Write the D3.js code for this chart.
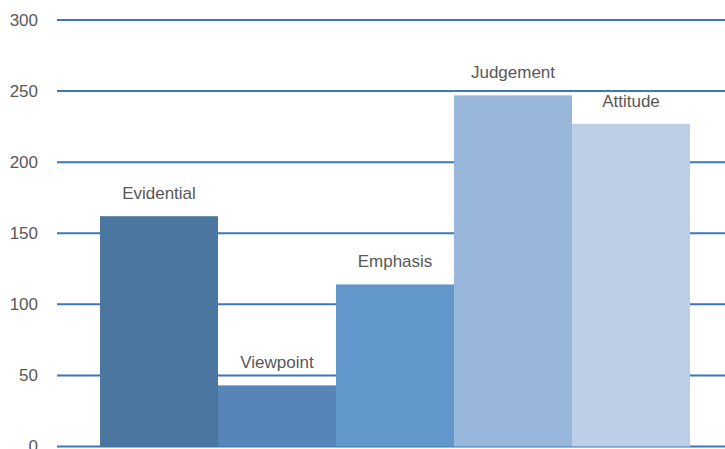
<!doctype html>
<html>
<head>
  <meta charset="UTF-8">
  <title>d3</title>
  <style type="text/css">
    body { margin: 0; background: #fff; }
    text { font-family: "Liberation Sans", Arial, sans-serif; fill: #585858; }
  </style>
  <script src="https://d3js.org/d3.v7.min.js"></script>
</head>
<body>
  <div id="chart"></div>
  <script>
    var categories = ["Evidential", "Viewpoint", "Emphasis", "Judgement", "Attitude"];
    var values = [162, 43, 114, 247, 227];
    var colors = ["#4a76a0", "#5785b7", "#6197ca", "#99b7da", "#bccfe7"];
    var yTicks = [0, 50, 100, 150, 200, 250, 300];

    var w = 725, h = 449;

    var svg = d3.select("#chart").append("svg")
      .attr("width", w)
      .attr("height", h);

    var y = d3.scaleLinear().domain([0, 300]).range([446.5, 20]);
    var x = d3.scaleBand().domain(categories).range([100, 690]).padding(0);

    // gridlines
    svg.selectAll(".grid")
      .data(yTicks)
      .enter().append("line")
      .attr("class", "grid")
      .attr("x1", 57)
      .attr("x2", w)
      .attr("y1", function(d) { return y(d); })
      .attr("y2", function(d) { return y(d); })
      .attr("stroke", "#3b78b5")
      .attr("stroke-width", 2);

    svg.selectAll(".yLabel")
      .data(yTicks)
      .enter().append("text")
      .attr("class", "yLabel")
      .attr("x", 38)
      .attr("y", function(d) { return y(d); })
      .attr("dy", "0.35em")
      .attr("text-anchor", "end")
      .style("font-size", "17px")
      .text(String);

    svg.selectAll(".bar")
      .data(values)
      .enter().append("rect")
      .attr("class", "bar")
      .attr("x", function(d, i) { return x(categories[i]); })
      .attr("width", x.bandwidth())
      .attr("y", function(d) { return y(d); })
      .attr("height", function(d) { return y(0) - y(d); })
      .attr("fill", function(d, i) { return colors[i]; });

    svg.selectAll(".barLabel")
      .data(values)
      .enter().append("text")
      .attr("class", "barLabel")
      .attr("x", function(d, i) { return x(categories[i]) + x.bandwidth() / 2; })
      .attr("y", function(d) { return y(d) - 23; })
      .attr("dy", "0.35em")
      .attr("text-anchor", "middle")
      .style("font-size", "17px")
      .text(function(d, i) { return categories[i]; });
  </script>
</body>
</html>
